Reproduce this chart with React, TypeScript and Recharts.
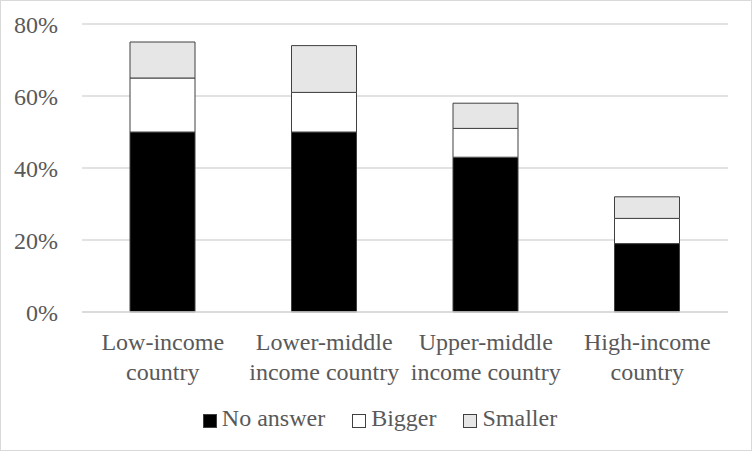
import React from "react";
import { BarChart, Bar, XAxis, YAxis, CartesianGrid, Legend } from "recharts";

const categories = [
  "Low-income\ncountry",
  "Lower-middle\nincome country",
  "Upper-middle\nincome country",
  "High-income\ncountry",
];
const noAnswer = [50, 50, 43, 19];
const bigger = [15, 11, 8, 7];
const smaller = [10, 13, 7, 6];
const yTicks = [0, 20, 40, 60, 80];

const seriesNames = ["No answer", "Bigger", "Smaller"];
const seriesFills = ["#000000", "#ffffff", "#e7e6e6"];

const FONT = '"Liberation Serif", "Times New Roman", serif';
const TEXT = "#595959";
const GRID = "#d9d9d9";
const EDGE = "#404040";

const data = categories.map((c, i) => ({
  name: c,
  noAnswer: noAnswer[i],
  bigger: bigger[i],
  smaller: smaller[i],
}));

const CategoryTick = (props: any) => {
  const { x, y, payload } = props;
  const lines = String(payload.value).split("\n");
  return (
    <g transform={`translate(${x},${y})`}>
      <text textAnchor="middle" fill={TEXT} fontSize={24} fontFamily={FONT}>
        {lines.map((l, i) => (
          <tspan key={i} x={0} y={38 + i * 30}>
            {l}
          </tspan>
        ))}
      </text>
    </g>
  );
};

const LegendBox = () => (
  <div
    style={{
      height: 46,
      display: "flex",
      justifyContent: "center",
      alignItems: "flex-start",
      fontFamily: FONT,
      fontSize: 24,
      color: TEXT,
      lineHeight: "27px",
      paddingLeft: 8,
      boxSizing: "border-box",
    }}
  >
    {seriesNames.map((n, i) => (
      <div
        key={n}
        style={{
          display: "flex",
          alignItems: "center",
          marginRight: i < seriesNames.length - 1 ? 27 : 0,
        }}
      >
        <span
          style={{
            display: "inline-block",
            width: 14,
            height: 14,
            boxSizing: "border-box",
            border: `1px solid ${EDGE}`,
            background: seriesFills[i],
            marginRight: 5,
            marginTop: 4,
          }}
        />
        <span>{n}</span>
      </div>
    ))}
  </div>
);

export default function App() {
  return (
    <div style={{ position: "absolute", left: 0, top: 0, width: 752, height: 451 }}>
      <BarChart
        width={752}
        height={451}
        data={data}
        margin={{ top: 24, right: 24, left: 0, bottom: 0 }}
        barSize={65}
      >
        <CartesianGrid vertical={false} stroke={GRID} strokeWidth={1.5} />
        <XAxis
          dataKey="name"
          height={93}
          interval={0}
          tickLine={false}
          tickSize={0}
          tickMargin={0}
          axisLine={{ stroke: GRID, strokeWidth: 1.5 }}
          tick={<CategoryTick />}
        />
        <YAxis
          width={82}
          domain={[0, 80]}
          ticks={yTicks}
          tickFormatter={(v: number) => `${v}%`}
          axisLine={false}
          tickLine={false}
          tickSize={0}
          tickMargin={24}
          tick={{ fill: TEXT, fontSize: 24, fontFamily: FONT }}
        />
        <Legend
          verticalAlign="bottom"
          content={<LegendBox />}
          wrapperStyle={{ left: 0, width: 752 }}
        />
        <Bar dataKey="noAnswer" name="No answer" stackId="a" fill={seriesFills[0]} stroke={EDGE} strokeWidth={1} isAnimationActive={false} />
        <Bar dataKey="bigger" name="Bigger" stackId="a" fill={seriesFills[1]} stroke={EDGE} strokeWidth={1} isAnimationActive={false} />
        <Bar dataKey="smaller" name="Smaller" stackId="a" fill={seriesFills[2]} stroke={EDGE} strokeWidth={1} isAnimationActive={false} />
      </BarChart>
      <div
        style={{
          position: "absolute",
          inset: 0,
          border: `1px solid ${GRID}`,
          pointerEvents: "none",
        }}
      />
    </div>
  );
}
